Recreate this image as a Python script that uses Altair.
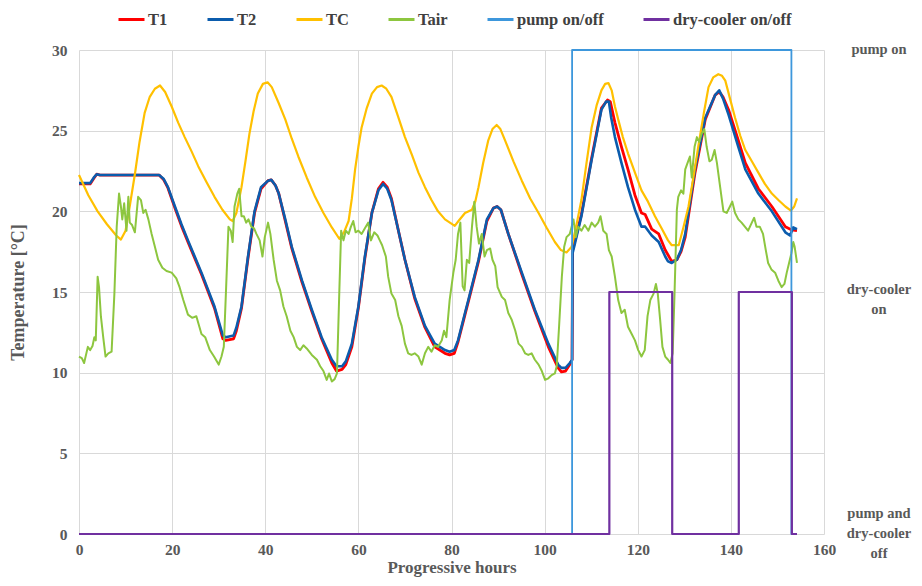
import altair as alt
import pandas as pd

# ---------------- data ----------------
T1_h = [0, 2.4, 3.2, 3.8, 4.5, 10, 17.2, 18.2, 19.1, 20.6, 22, 23.4, 26.3, 29.1, 30.9, 31.5, 33.2, 33.8, 34.9, 36.3,
        37.7, 39.1, 40.6, 41.3, 42.2, 42.9, 44.3, 45.7, 47.9, 50, 52.1, 54.3, 55.3, 56.5, 57.3, 58.6, 60, 61.4, 62.9,
        64.3, 65.3, 66.2, 67.1, 68.6, 70, 72.1, 74.3, 76.4, 78.6, 79.6, 80.6, 81.4, 82.9, 83.7, 85.8, 87.6, 89.0,
        89.8, 90.6, 92.2, 95.1, 97.9, 100.8, 102.9, 103.6, 104.5, 105.4, 105.9, 106.0, 107.9, 110.1, 112.2, 113.5,
        114.1, 115.1, 116.5, 117.9, 119.4, 120.8, 121.6, 123, 124.5, 125.9, 127.3, 128.4, 129.3, 130.2, 132.3, 134.5,
        136.6, 137.5, 138.3, 139.5, 141.6, 143.1, 145.9, 148.8, 151.7, 153.1, 154.2]
T1_v = [21.7, 21.7, 22.05, 22.3, 22.25, 22.25, 22.25, 21.95, 21.45, 20.2, 19.1, 18.1, 16.1, 14.0, 12.1, 12.0, 12.1,
        12.6, 14.0, 17.1, 19.9, 21.4, 21.9, 21.95, 21.6, 21.1, 19.4, 17.7, 15.6, 13.8, 12.1, 10.6, 10.1, 10.2, 10.5,
        11.6, 14.0, 17.1, 19.9, 21.4, 21.8, 21.5, 20.8, 18.8, 17.0, 14.6, 12.8, 11.6, 11.2, 11.1, 11.2, 11.9, 13.6,
        14.5, 16.9, 19.4, 20.2, 20.3, 20.1, 18.6, 16.1, 13.8, 11.6, 10.3, 10.05, 10.1, 10.5, 10.8, 17.6, 19.8, 23.3,
        26.4, 26.9, 26.8, 25.5, 24.0, 22.6, 21.0, 19.9, 19.8, 18.9, 18.6, 17.6, 16.9, 17.0, 17.5, 18.4, 22.4, 25.7,
        27.2, 27.4, 27.1, 26.3, 24.4, 23.0, 21.4, 20.3, 19.05, 18.85, 18.8]

T2_h = [0, 2.4, 3.2, 3.8, 4.5, 10, 17.2, 18.2, 19.1, 20.6, 22, 23.4, 26.3, 29.1, 30.9, 31.5, 33.2, 33.8, 34.9, 36.3,
        37.7, 39.1, 40.6, 41.3, 42.2, 42.9, 44.3, 45.7, 47.9, 50, 52.1, 54.3, 55.3, 56.5, 57.3, 58.6, 60, 61.4, 62.9,
        64.3, 65.3, 66.2, 67.1, 68.6, 70, 72.1, 74.3, 76.4, 78.6, 79.6, 80.6, 81.4, 82.9, 83.7, 85.8, 87.6, 89.0,
        89.8, 90.6, 92.2, 95.1, 97.9, 100.8, 102.9, 103.6, 104.5, 105.4, 105.9, 106.0, 106.5, 107.9, 110.1, 112.2,
        113.2, 113.8, 114.3, 115.1, 116.5, 117.9, 119.4, 120.8, 121.6, 123, 124.5, 125.9, 126.5, 127.3, 128.4, 129.3,
        130.2, 132.3, 134.5, 136.6, 137.5, 138.3, 139.5, 141.6, 143.1, 145.9, 148.8, 151.7, 152.7, 153.4, 154.2]
T2_v = [21.75, 21.75, 22.1, 22.3, 22.25, 22.25, 22.25, 22.0, 21.5, 20.3, 19.2, 18.2, 16.2, 14.1, 12.3, 12.2, 12.3,
        12.8, 14.1, 17.2, 20.0, 21.5, 21.9, 21.95, 21.6, 21.1, 19.5, 17.8, 15.7, 13.9, 12.2, 10.8, 10.4, 10.4, 10.7,
        11.8, 14.1, 17.2, 19.9, 21.3, 21.7, 21.4, 20.7, 18.8, 17.0, 14.7, 12.9, 11.8, 11.4, 11.3, 11.4, 12.0, 13.7,
        14.6, 17.0, 19.5, 20.2, 20.3, 20.1, 18.6, 16.2, 13.9, 11.8, 10.5, 10.3, 10.3, 10.6, 10.8, 17.4, 18.0, 19.7,
        23.2, 26.3, 26.8, 26.8, 25.8, 24.6, 23.0, 21.5, 20.1, 19.05, 19.05, 18.5, 18.1, 17.2, 16.9, 16.8, 17.0, 17.6,
        18.6, 22.6, 25.8, 27.2, 27.5, 27.0, 26.0, 24.0, 22.6, 21.1, 20.0, 18.7, 18.5, 19.0, 18.9]

TC_h = [0, 2, 4, 6, 8, 9, 10, 11, 12, 13, 14.1, 15.2, 16.3, 17.4, 18.5, 19.9, 21.3, 22.7, 24.2, 25.6, 27.4, 29.1,
        30.8, 32.4, 33.0, 33.8, 34.9, 35.8, 36.6, 37.5, 38.4, 39.5, 40.5, 41.4, 42.9, 44.3, 45.7, 47.1, 48.9, 50.7,
        52.5, 54.3, 55.9, 56.9, 57.9, 58.6, 59.3, 60.0, 60.7, 61.8, 62.9, 64, 65, 66, 67.1, 68.5, 70, 71.5, 72.9,
        74.3, 75.7, 77.1, 78.6, 80.7, 81.5, 82.9, 84.4, 85.1, 85.8, 86.8, 87.9, 88.8, 89.7, 90.5, 91.5, 93.3, 95.1,
        96.9, 98.7, 100.4, 102.2, 103.5, 104.7, 105.8, 106.8, 107.9, 109, 110.1, 111.2, 112.2, 113.0, 113.7, 114.4,
        115.1, 115.8, 116.8, 117.9, 119.4, 120.8, 122.2, 123.7, 125.2, 126.5, 127.3, 128.8, 129.8, 130.9, 132,
        133.1, 134.2, 135.2, 136.2, 137.3, 138.1, 138.8, 139.8, 140.9, 142, 143.1, 144.5, 145.9, 147.3, 148.8,
        150.2, 151.7, 152.9, 153.6, 154.2]
TC_v = [22.25, 21.0, 20.0, 19.2, 18.5, 18.25, 18.8, 20.5, 22.3, 24.3, 26.1, 27.1, 27.6, 27.8, 27.4, 26.5, 25.5, 24.6,
        23.7, 22.8, 21.8, 20.9, 20.1, 19.5, 19.4, 19.9, 21.5, 23.2, 24.8, 26.2, 27.3, 27.9, 28.0, 27.7, 26.7, 25.7,
        24.5, 23.4, 22.1, 20.9, 19.9, 19.0, 18.3, 18.7, 19.4, 20.8, 22.6, 24.0, 25.2, 26.4, 27.3, 27.7, 27.8, 27.6,
        27.1, 25.9, 24.6, 23.5, 22.4, 21.5, 20.7, 20.0, 19.5, 19.1, 19.4, 19.9, 20.1, 20.6, 21.5, 23.0, 24.4, 25.1,
        25.35, 25.1, 24.4, 23.1, 21.9, 20.8, 19.9, 19.0, 18.1, 17.6, 17.45, 17.8, 19.1, 20.7, 23.0, 25.2, 26.6, 27.5,
        27.9, 27.95, 27.5, 26.5, 25.7, 24.6, 23.6, 22.4, 21.3, 20.6, 19.7, 18.9, 18.2, 17.9, 17.9, 19.0, 20.3, 22.2,
        24.2, 26.1, 27.7, 28.3, 28.5, 28.4, 28.1, 27.0, 25.8, 24.7, 23.8, 23.1, 22.4, 21.7, 21.1, 20.7, 20.3, 20.05,
        20.3, 20.8]

Tair_h = [0, 0.6, 1.1, 1.9, 2.4, 2.9, 3.3, 3.6, 4.0, 4.3, 4.7, 5.2, 5.7, 6.3, 7.0, 7.6, 8.1, 8.6, 9.0, 9.3, 9.7, 10.2,
          10.6, 10.9, 11.4, 12.0, 12.7, 13.3, 13.8, 14.3, 14.9, 15.6, 16.3, 17.0, 17.9, 18.8, 19.9, 20.9, 21.6, 22.4,
          23.4, 24.3, 25.2, 26.3, 27.1, 28.1, 29.0, 30.0, 30.6, 31.1, 31.6, 32.1, 32.6, 33.0, 33.4, 34.0, 34.4, 34.9,
          35.4, 35.9, 36.4, 37.0, 37.6, 38.1, 38.8, 39.4, 39.9, 40.6, 41.1, 41.8, 42.5, 43.2, 43.9, 44.6, 45.4, 46.1,
          46.8, 47.5, 48.2, 48.9, 50.0, 51.1, 51.8, 52.5, 53.2, 53.7, 54.3, 54.9, 55.4, 55.9, 56.3, 56.8, 57.3, 57.9,
          58.4, 58.9, 59.4, 60.0, 60.7, 61.4, 62.1, 62.7, 63.4, 64.1, 64.6, 65.1, 65.9, 66.4, 67.1, 67.9, 68.6, 69.3,
          70.0, 70.7, 71.4, 72.1, 72.9, 73.6, 74.3, 75.0, 75.7, 76.4, 77.1, 77.9, 78.4, 78.9, 79.6, 80.4, 80.9, 81.4,
          81.9, 82.4, 82.8, 83.3, 83.8, 84.4, 84.9, 85.4, 85.9, 86.5, 87.1, 87.6, 88.3, 88.8, 89.4, 89.9, 90.8, 91.5,
          92.2, 92.9, 93.7, 94.4, 95.1, 95.8, 96.5, 97.2, 97.9, 98.7, 99.4, 100.1, 100.8, 101.5, 102.2, 102.6, 103.1,
          103.7, 104.2, 104.7, 105.4, 106.2, 106.7, 107.2, 107.9, 108.6, 109.4, 110.1, 110.8, 111.5, 112.0, 112.6,
          113.3, 113.8, 114.4, 115.1, 115.8, 116.5, 117.2, 117.9, 118.7, 119.4, 120.1, 120.8, 121.5, 122.1, 122.7,
          123.4, 123.9, 124.3, 124.8, 125.3, 125.9, 126.5, 127.0, 127.5, 127.9, 128.4, 128.7, 129.3, 129.8, 130.2,
          130.7, 131.2, 131.6, 132.2, 132.7, 133.2, 133.7, 134.3, 134.8, 135.4, 135.9, 136.5, 137.0, 137.7, 138.4,
          139.1, 139.8, 140.3, 140.9, 141.6, 142.3, 143.0, 143.7, 144.5, 145.0, 145.5, 146.2, 146.9, 147.5, 148.0,
          148.7, 149.5, 150.2, 150.9, 151.5, 152.0, 152.5, 153.0, 153.4, 153.7, 154.2]
Tair_v = [11.0, 10.9, 10.6, 11.6, 11.4, 11.65, 12.2, 12.0, 15.95, 15.3, 13.5, 12.2, 11.0, 11.2, 11.3, 14.9, 19.05,
          21.1, 20.3, 19.5, 20.5, 18.8, 20.9, 19.3, 19.15, 18.7, 20.9, 20.7, 19.9, 20.1, 19.5, 18.6, 17.8, 17.0, 16.5,
          16.3, 16.2, 15.85, 15.3, 14.5, 13.6, 13.4, 13.5, 12.4, 12.2, 11.4, 11.0, 10.5, 11.0, 11.6, 15.3, 19.05, 18.8,
          18.1, 20.3, 21.1, 21.4, 19.7, 19.7, 19.3, 19.5, 19.05, 18.95, 18.6, 18.2, 17.2, 18.4, 19.3, 18.6, 17.0, 15.7,
          15.1, 14.1, 13.5, 12.6, 12.2, 11.6, 11.4, 11.7, 11.5, 11.1, 10.8, 10.4, 10.1, 9.55, 9.95, 9.45, 9.6, 9.95,
          14.95, 18.8, 18.2, 18.8, 18.6, 19.05, 19.4, 18.7, 18.8, 18.6, 18.95, 19.3, 18.2, 18.7, 18.5, 18.2, 17.9,
          17.2, 15.95, 14.9, 14.5, 13.5, 12.9, 11.8, 11.2, 11.1, 11.2, 11.0, 10.5, 11.2, 11.6, 11.3, 11.7, 11.6, 12.0,
          12.6, 12.2, 14.5, 16.2, 17.0, 18.6, 19.3, 15.35, 15.1, 17.0, 16.8, 19.05, 20.6, 19.05, 18.0, 18.6, 17.2,
          17.6, 17.7, 17.0, 16.6, 15.3, 14.7, 14.5, 13.7, 13.3, 12.6, 11.8, 11.6, 11.2, 11.1, 11.2, 10.8, 10.5, 10.1,
          9.55, 9.65, 9.85, 9.95, 10.4, 12.85, 15.95, 17.8, 18.4, 18.6, 19.5, 18.4, 19.05, 18.8, 19.15, 18.8, 19.3,
          19.05, 19.3, 19.7, 18.8, 18.6, 17.6, 17.2, 15.95, 14.5, 13.7, 13.9, 12.85, 12.4, 12.0, 11.4, 11.0, 11.4,
          13.5, 14.5, 14.9, 15.5, 14.9, 13.3, 11.6, 11.0, 10.8, 10.6, 11.2, 14.9, 20.1, 20.9, 21.3, 21.1, 22.6, 23.0,
          23.4, 22.1, 24.0, 24.6, 24.3, 24.8, 25.1, 24.0, 23.1, 23.2, 23.8, 23.0, 21.5, 20.0, 19.9, 20.3, 20.6, 19.9,
          19.5, 19.3, 19.05, 18.8, 19.3, 19.6, 19.05, 19.05, 18.6, 17.6, 16.8, 16.4, 16.2, 15.7, 15.3, 15.5, 16.2,
          16.8, 17.4, 18.1, 17.8, 16.8]

PUMP_h = [0, 105.9, 105.9, 153.0, 153.0, 153.6]
PUMP_v = [0, 0, 30, 30, 0, 0]
DRY_h = [0, 113.9, 113.9, 127.4, 127.4, 141.7, 141.7, 153.1, 153.1, 154.2]
DRY_v = [0, 0, 15, 15, 0, 0, 15, 15, 0, 0]

SERIES = ["T1", "T2", "TC", "Tair", "pump on/off", "dry-cooler on/off"]
COLORS = ["#FF0000", "#0B5CAD", "#FFC000", "#8DC63F", "#3D97DC", "#7030A0"]

RIGHT_LABELS = ["pump on", "dry-cooler\non", "pump and\ndry-cooler\noff"]
RIGHT_VALUES = [30, 15, 0]

FONT = "Liberation Serif"
GRAY = "#595959"


def frame(name, hs, vs):
    return pd.DataFrame({"hour": hs, "value": vs, "series": name, "i": list(range(len(hs)))})


color_scale = alt.Scale(domain=SERIES, range=COLORS)
x_enc = alt.X("hour:Q", scale=alt.Scale(domain=[0, 160], nice=False),
              axis=alt.Axis(values=list(range(0, 161, 20)), title="Progressive hours", grid=True,
                            ticks=False, domain=False, labelPadding=8, titlePadding=2,
                            labelFlush=False, labelOverlap=False))
y_enc = alt.Y("value:Q", scale=alt.Scale(domain=[0, 30], nice=False),
              axis=alt.Axis(values=list(range(0, 31, 5)), title="Temperature [°C]", grid=True,
                            ticks=False, domain=False, labelPadding=12, titlePadding=24,
                            titleFontSize=18, labelFlush=False, labelOverlap=False))


def line_layer(name, hs, vs, width):
    return alt.Chart(frame(name, hs, vs)).mark_line(strokeWidth=width, strokeJoin="round").encode(
        x=x_enc, y=y_enc,
        color=alt.Color("series:N", scale=color_scale, title=None,
                        legend=alt.Legend(orient="none", legendX=38, legendY=-45, direction="horizontal",
                                          symbolType="stroke", symbolStrokeWidth=3, symbolSize=676,
                                          labelFont=FONT, labelFontWeight="bold", labelFontSize=16.5,
                                          labelColor="#404040", columnPadding=33, labelOffset=2,
                                          symbolOffset=0)),
        order=alt.Order("i:Q"),
    )


layers = [
    line_layer("T1", T1_h, T1_v, 2.8),
    line_layer("T2", T2_h, T2_v, 2.6),
    line_layer("TC", TC_h, TC_v, 2.2),
    line_layer("Tair", Tair_h, Tair_v, 2.0),
    line_layer("pump on/off", PUMP_h, PUMP_v, 1.8),
    line_layer("dry-cooler on/off", DRY_h, DRY_v, 2.2),
]

lab_df = pd.DataFrame({"label": RIGHT_LABELS, "value": RIGHT_VALUES})
text_common = dict(font=FONT, fontWeight="bold", fontSize=14.5, color=GRAY, lineBreak="\n",
                   align="center", baseline="middle", lineHeight=20)
label_y = alt.Y("value:Q", scale=alt.Scale(domain=[0, 30], nice=False))
texts = [
    alt.Chart(lab_df.iloc[[k]]).mark_text(dy=d, **text_common).encode(
        x=alt.value(800), y=label_y, text="label:N")
    for k, d in zip(range(3), [0, -2, -20])
]

chart = alt.layer(*layers, *texts).properties(
    width=745, height=484,
    padding={"left": 71, "top": 42, "right": 90, "bottom": 44},
    autosize=alt.AutoSizeParams(type="none"),
    background="white",
).configure_view(stroke=None).configure_axis(
    gridColor="#D9D9D9", gridWidth=1,
    labelFont=FONT, labelFontWeight="bold", labelFontSize=15.5, labelColor=GRAY,
    titleFont=FONT, titleFontWeight="bold", titleFontSize=17, titleColor=GRAY,
)

chart.save("out.html", embed_options={"renderer": "svg", "actions": False})
